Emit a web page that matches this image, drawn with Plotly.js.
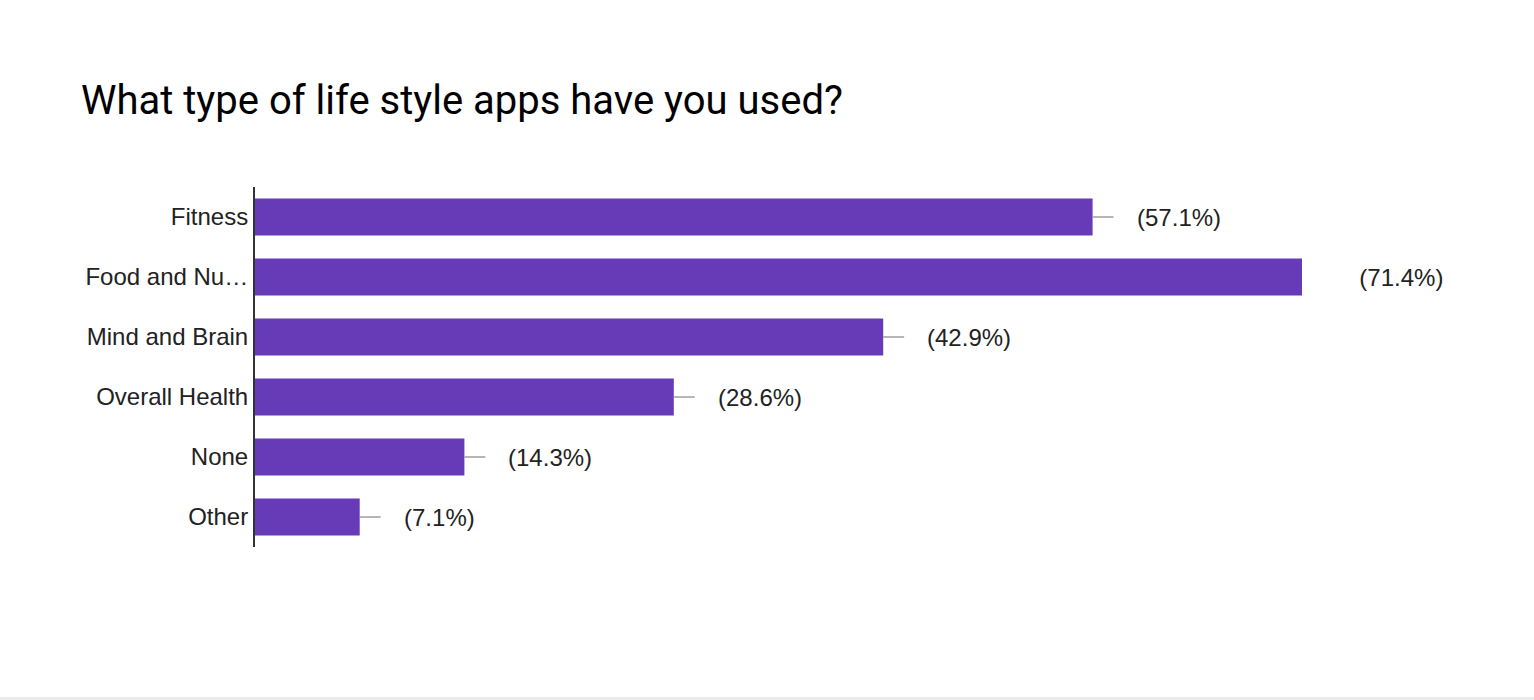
<!DOCTYPE html>
<html>
<head>
<meta charset="utf-8">
<script src="https://cdn.plot.ly/plotly-3.0.1.min.js"></script>
<style>
  html, body { margin: 0; padding: 0; background: #fff; }
  #chart { width: 1534px; height: 697px; }
  #rule { width: 1534px; height: 3px; background: #ebebeb; }
</style>
</head>
<body>
<div id="chart"></div>
<div id="rule"></div>
<script>
const categories = ["Fitness", "Food and Nu\u2026", "Mind and Brain", "Overall Health", "None", "Other"];
const counts = [8, 10, 6, 4, 2, 1];
const percents = ["57.1%", "71.4%", "42.9%", "28.6%", "14.3%", "7.1%"];
const titleText = "What type of life style apps have you used?";

const barColor = "#673ab7";
const textColor = "#222222";
const fontFamily = "Arial, 'Liberation Sans', sans-serif";

const barTrace = {
  type: "bar",
  orientation: "h",
  x: counts,
  y: categories,
  marker: { color: barColor },
  error_x: {
    type: "data",
    symmetric: false,
    array: counts.map(() => 0.2),
    arrayminus: counts.map(() => 0),
    color: "#9e9e9e",
    thickness: 1.5,
    width: 0
  },
  hoverinfo: "none"
};

const annotations = categories.map((c, i) => ({
  x: counts[i],
  y: c,
  xref: "x",
  yref: "y",
  xanchor: "left",
  yanchor: "middle",
  xshift: 22,
  showarrow: false,
  text: '<span style="color:#ffffff">' + counts[i] + '</span> (' + percents[i] + ')',
  font: { family: fontFamily, size: 24, color: textColor }
}));

const layout = {
  width: 1534,
  height: 697,
  margin: { l: 255, r: 232, t: 187, b: 150, pad: 0 },
  paper_bgcolor: "#ffffff",
  plot_bgcolor: "#ffffff",
  showlegend: false,
  bargap: 0.38,
  title: {
    text: titleText,
    xref: "container",
    yref: "container",
    x: 81 / 1534,
    xanchor: "left",
    y: 1 - 100 / 697,
    yanchor: "middle",
    font: { family: "Roboto, Arial, sans-serif", size: 40, color: "#000000" }
  },
  xaxis: {
    range: [0, 10],
    showgrid: false,
    zeroline: false,
    showline: false,
    showticklabels: false,
    ticks: "",
    fixedrange: true
  },
  yaxis: {
    type: "category",
    autorange: "reversed",
    showgrid: false,
    zeroline: false,
    showline: true,
    linecolor: "#333333",
    linewidth: 2,
    ticks: "",
    ticklabelstandoff: 0,
    tickfont: { family: fontFamily, size: 24, color: textColor },
    fixedrange: true
  },
  annotations: annotations
};

Plotly.newPlot("chart", [barTrace], layout, { displayModeBar: false, staticPlot: true });
</script>
</body>
</html>
